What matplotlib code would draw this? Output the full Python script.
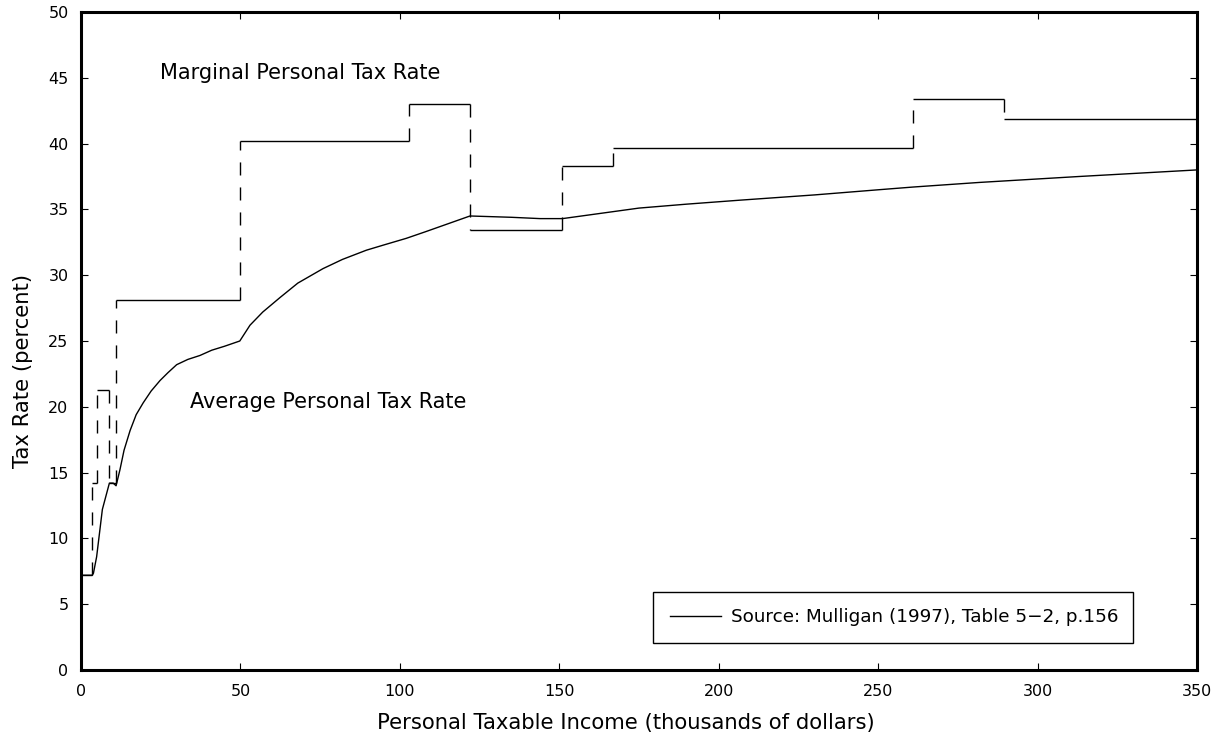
import matplotlib
matplotlib.use("Agg")
import matplotlib.pyplot as plt
from matplotlib.lines import Line2D

# Marginal tax rate schedule (step function)
marg_breaks = [0, 3.5, 4.9, 8.9, 11.0, 49.8, 102.8, 122.0, 151.0, 167.0, 260.8, 289.5, 350]
marg_rates = [7.2, 14.2, 21.3, 14.2, 28.1, 40.2, 43.0, 33.4, 38.3, 39.7, 43.4, 41.9]

# Average tax rate curve
avg_x = [0, 3.5, 3.9, 4.9, 6.7, 8.9, 10.1, 11.0, 12.2, 13.5, 15.4, 17.3, 19.5, 22.0, 24.8,
         27.3, 30, 33.5, 37.3, 41, 45, 49.8, 53, 57, 62.4, 68, 75.9, 82, 89.5, 95, 102,
         108, 115, 122, 135, 144, 151, 163, 175, 190, 206.6, 230, 250.5, 261, 281.8,
         313, 350]
avg_y = [7.2, 7.2, 7.35, 8.6, 12.2, 14.2, 14.2, 14.0, 15.2, 16.7, 18.2, 19.4, 20.3, 21.2, 22.0,
         22.6, 23.2, 23.6, 23.9, 24.3, 24.6, 25.0, 26.2, 27.2, 28.3, 29.4, 30.5, 31.2, 31.9,
         32.3, 32.8, 33.3, 33.9, 34.5, 34.4, 34.3, 34.3, 34.7, 35.1, 35.4, 35.7, 36.1, 36.5,
         36.7, 37.05, 37.5, 38.0]

x_ticks = [0, 50, 100, 150, 200, 250, 300, 350]
y_ticks = [0, 5, 10, 15, 20, 25, 30, 35, 40, 45, 50]

plt.rcParams['font.family'] = ['DejaVu Sans']

fig = plt.figure(figsize=(12.22, 7.43), dpi=100)
ax = fig.add_axes([81/1222, 73/743, (1197-81)/1222, (670-12)/743])

lw = 1.0
ax.hlines(marg_rates, marg_breaks[:-1], marg_breaks[1:], colors='black', linewidth=lw)
ax.vlines(marg_breaks[1:-1], marg_rates[:-1], marg_rates[1:], colors='black',
          linewidth=lw, linestyles=[(0, (9.4, 8.6))])
ax.plot(avg_x, avg_y, color='black', linewidth=lw)

ax.set_xlim(0, 350)
ax.set_ylim(0, 50)
ax.set_xticks(x_ticks)
ax.set_yticks(y_ticks)

for s in ax.spines.values():
    s.set_linewidth(2.2)
ax.tick_params(direction='in', length=5, width=0.8, top=True, right=True,
               labelsize=11.5, pad=9, colors='black')
ax.tick_params(axis='x', pad=10)

ax.set_xlabel('Personal Taxable Income (thousands of dollars)', fontsize=15.2, labelpad=8)
ax.xaxis.set_label_coords((626-81)/1116, -0.065)
ax.set_ylabel('Tax Rate (percent)', fontsize=15.2, labelpad=8)
ax.yaxis.set_label_coords(-0.043, (670-371)/658)

ax.text(24.8, 45.4, 'Marginal Personal Tax Rate', fontsize=15, va='center', ha='left')
ax.text(34.2, 20.4, 'Average Personal Tax Rate', fontsize=15, va='center', ha='left')

handle = Line2D([0], [0], color='black', linewidth=lw)
leg = ax.legend([handle], ['Source: Mulligan (1997), Table 5\u22122, p.156'],
                loc='lower left', bbox_to_anchor=((653-81)/1116, (670-643)/658, (1133-653)/1116, (643-592)/658),
                mode='expand', fontsize=13.2, fancybox=False, framealpha=1, edgecolor='black',
                borderaxespad=0, handlelength=2.8, handletextpad=0.55, borderpad=0.9)
leg.get_frame().set_linewidth(1.0)

fig.savefig('out.png', dpi=100)
